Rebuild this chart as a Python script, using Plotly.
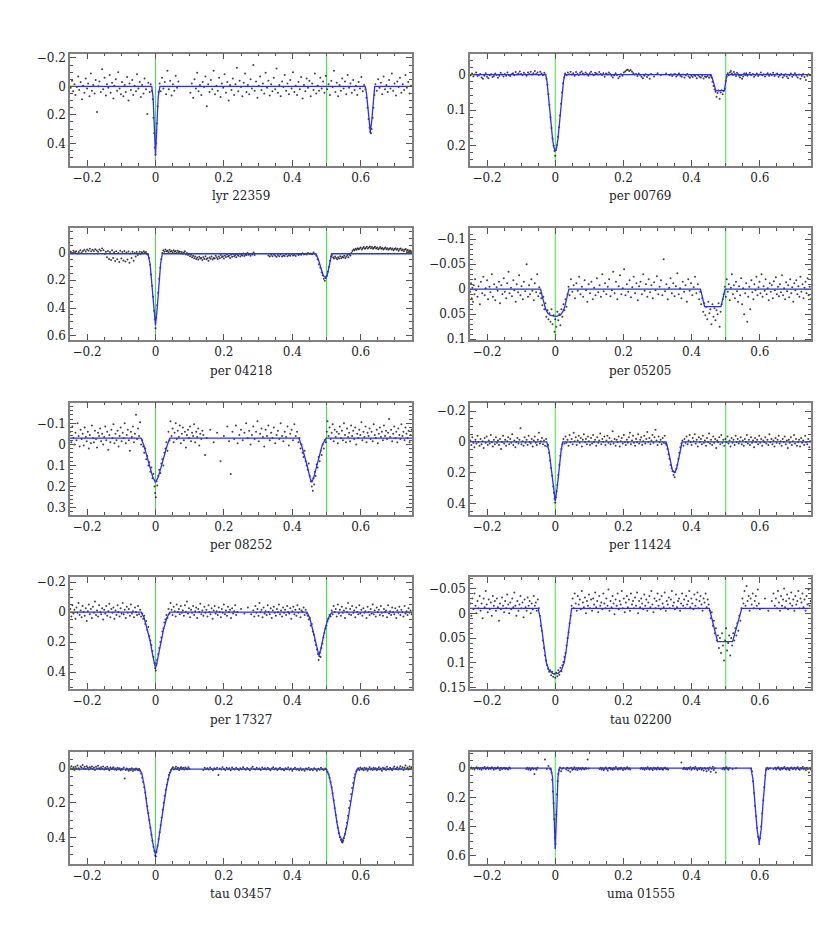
import plotly.graph_objects as go

# ---------------- data (phase and magnitude in thousandths) ----------------
panel_names = ["lyr 22359", "per 00769", "per 04218", "per 05205", "per 08252",
               "per 11424", "per 17327", "tau 02200", "tau 03457", "uma 01555"]

# y-axis ranges (bottom, top) -- magnitude axis is reversed
y_ranges = [(0.557, -0.23), (0.256, -0.059), (0.631, -0.174), (0.102, -0.122),
            (0.333, -0.198), (0.473, -0.256), (0.514, -0.233), (0.153, -0.073),
            (0.552, -0.096), (0.655, -0.114)]
y_major = [0.2, 0.1, 0.2, 0.05, 0.1, 0.2, 0.2, 0.05, 0.2, 0.2]
y_minor = [0.05, 0.02, 0.05, 0.01, 0.02, 0.05, 0.05, 0.01, 0.05, 0.05]
x_range = (-0.25, 0.75)
ref_phase = 0.5

# model curves (vertices)
lyr22359_model = [(-250,0),(-11,0),(-7,80),(-4,230),(-2,380),(0,485),(2,380),(5,200),(8,70),(13,0),
                  (613,0),(617,50),(621,150),(624,240),(628,320),(632,250),(635,150),(638,50),(641,0),(750,0)]
per00769_model = [(-250,0),(-28,0),(-24,20),(-20,55),(-16,95),(-12,140),(-8,180),(-4,205),(0,215),(4,205),
                  (8,180),(12,140),(16,95),(20,55),(24,20),(28,0),(457,0),(462,15),(467,35),(471,45),
                  (496,45),(499,30),(503,0),(750,0)]
per04218_model = [(-250,10),(-22,10),(-16,80),(-10,230),(-5,400),(0,525),(5,400),(10,230),(15,80),(20,10),
                  (469,10),(476,50),(484,120),(490,165),(496,180),(502,165),(507,110),(511,45),(515,10),(750,10)]
per05205_model = [(-250,0),(-43,0),(-38,15),(-33,30),(-28,40),(-22,48),(-15,52),(-5,54),(5,54),(15,52),
                  (22,45),(28,35),(33,20),(38,5),(40,0),(426,0),(432,20),(438,35),(486,35),(492,18),(498,0),(750,0)]
per08252_model = [(-250,-30),(-42,-30),(-33,10),(-24,60),(-16,110),(-8,155),(0,180),(8,155),(16,110),(24,60),
                  (33,10),(42,-30),(419,-30),(428,10),(437,60),(445,110),(452,160),(457,180),(463,155),
                  (470,110),(478,60),(488,0),(499,-30),(750,-30)]
per11424_model = [(-250,0),(-25,0),(-18,60),(-12,160),(-6,290),(0,385),(6,290),(12,160),(17,60),(22,0),
                  (325,0),(330,40),(337,120),(343,180),(349,200),(355,180),(361,120),(367,40),(372,0),(750,0)]
per17327_model = [(-250,0),(-42,0),(-33,40),(-24,110),(-16,190),(-8,290),(-3,350),(0,372),(3,350),(8,290),
                  (16,190),(24,110),(33,40),(42,0),(443,0),(451,40),(459,110),(467,190),(473,260),(478,290),
                  (483,250),(489,180),(496,110),(505,40),(516,0),(750,0)]
tau02200_model = [(-250,-10),(-50,-10),(-44,10),(-38,40),(-32,75),(-26,100),(-18,115),(-8,121),(0,122),(8,121),
                  (18,115),(26,100),(32,75),(38,40),(44,10),(48,-10),(452,-10),(464,25),(476,57),(520,57),
                  (532,25),(547,-10),(750,-10)]
tau03457_model = [(-250,5),(-47,5),(-40,30),(-32,110),(-24,230),(-16,340),(-8,430),(-3,480),(0,500),(3,480),
                  (8,430),(16,320),(24,210),(32,110),(40,40),(47,5),(499,5),(507,40),(515,110),(523,220),
                  (531,320),(538,390),(546,420),(553,390),(561,320),(569,220),(577,110),(584,40),(590,5),(750,5)]
uma01555_model = [(-250,0),(-13,0),(-8,60),(-4,250),(-2,420),(0,555),(2,420),(4,250),(8,60),(12,0),
                  (574,0),(580,80),(586,260),(592,420),(598,512),(604,420),(609,250),(614,80),(618,0),(750,0)]

# observed points
lyr22359_pts = [(-248,10),(-244,-40),(-241,35),(-237,-15),(-234,60),(-230,5),(-226,-70),(-223,25),(-219,-30),(-215,90),(-212,-5),(-208,45),(-204,-55),(-200,15),(-197,-20),(-193,70),(-189,-90),(-186,30),(-182,-10),(-178,50),(-175,-45),(-171,180),(-167,0),(-164,-35),(-160,40),(-156,-120),(-153,20),(-149,-60),(-145,65),(-142,-15),(-138,10),(-134,-80),(-131,45),(-127,-25),(-123,85),(-120,-5),(-116,-50),(-112,30),(-109,-100),(-105,15),(-101,55),(-98,-30),(-94,70),(-90,-10),(-87,40),(-83,-65),(-79,100),(-76,-20),(-72,25),(-68,-45),(-65,60),(-61,-5),(-57,35),(-54,-85),(-50,15),(-46,-30),(-43,75),(-39,-10),(-35,50),(-32,-55),(-28,20),(-24,195),(-21,-25),(-17,40),(-14,-15),(-11,30),(-8,90),(-6,220),(-4,330),(-2,430),(0,480),(2,400),(4,260),(6,140),(9,40),(12,-20),(15,35),(19,-60),(23,15),(27,-30),(31,55),(35,-110),(39,20),(43,-40),(47,65),(51,-15),(55,30),(59,-75),(63,10),(67,-35),
                (102,45),(106,-20),(110,80),(114,-50),(118,15),(122,-95),(126,35),(130,-10),(134,60),(138,-30),(142,5),(146,-70),(150,140),(154,-15),(158,40),(162,-45),(166,20),(170,-110),(174,55),(178,-5),(182,30),(186,-60),(190,75),(194,-20),(198,10),(202,-85),(206,45),(210,-30),(214,100),(218,-10),(222,25),(226,-55),(230,60),(234,-15),(238,-130),(242,35),(246,-40),(250,5),(254,70),(258,-25),(262,-90),(266,40),(270,-10),(274,55),(278,-50),(282,15),(286,-150),(290,30),(294,-35),(298,80),(302,-5),(306,-70),(310,25),(314,-20),(318,50),(322,-95),(326,10),(330,-40),(334,65),(338,-15),(342,35),(346,-60),(350,20),(354,-125),(358,45),(362,-10),(366,70),(370,-35),(374,5),(378,-80),(382,30),(386,-20),(390,55),(394,-45),(398,15),(402,-100),(406,40),(410,-5),(414,60),(418,-30),(422,20),(426,-65),(430,85),(434,-10),(438,35),(442,-55),(446,10),(450,-40),(454,70),(458,-20),(462,25),(466,-90),(470,50),(474,-5),(478,30),(482,-60),(486,15),(490,-35),(494,45),(498,-75),(502,20),(506,-15),(510,60),(514,-40),(518,5),(522,-110),(526,40),(530,-25),(534,70),(538,-10),(542,30),(546,-55),(550,15),(554,-35),(558,55),(562,-80),(566,10),(570,-20),(574,45),(578,-45),(582,25),(586,-5),(590,60),(594,-30),(598,15),(602,-65),(606,35),(610,-10),(614,20),(617,80),(620,150),(623,230),(626,290),(628,320),(630,330),(632,300),(635,220),(637,150),(640,60),(643,-15),(647,30),(651,-50),(655,10),(659,-25),(663,55),(667,-70),(671,20),(675,-10),(679,40),(683,-45),(687,15),(691,-90),(695,30),(699,-20),(703,65),(707,-35),(711,5),(715,-60),(719,45),(723,-15),(727,25),(731,-80),(735,10),(739,-30),(743,50),(747,-5)]

per00769_pts = [(-248,2),(-244,-3),(-240,5),(-236,0),(-232,-6),(-228,4),(-224,1),(-220,-2),(-216,8),(-212,12),(-208,3),(-204,-4),(-200,6),(-196,10),(-192,2),(-188,-1),(-184,7),(-180,4),(-176,-3),(-172,1),(-168,9),(-164,3),(-160,-5),(-156,0),(-152,5),(-148,-2),(-144,3),(-140,-6),(-136,1),(-132,4),(-128,-1),(-124,-4),(-120,2),(-116,-7),(-112,0),(-108,-3),(-104,-9),(-100,-2),(-96,1),(-92,-5),(-88,-1),(-84,3),(-80,-6),(-76,-2),(-72,-8),(-68,0),(-64,-4),(-60,-10),(-56,-2),(-52,-6),(-48,1),(-44,-8),(-40,-3),(-36,2),(-32,-5),(-29,0),(-26,12),(-23,28),(-20,55),(-17,85),(-14,120),(-11,150),(-8,180),(-5,200),(-2,215),(0,228),(2,212),(5,198),(8,175),(11,148),(14,115),(17,82),(20,50),(23,25),(26,8),(29,-3),(33,2),(37,-6),(41,-1),(45,-8),(49,0),(53,-4),(57,3),(61,-7),(65,-2),(69,1),(73,-5),(77,-9),(81,-3),(85,0),(89,-6),(93,-2),(97,3),(101,-4),(105,-8),(109,-1),(113,2),(117,-5),(121,-3),(125,0),(129,-7),(133,-2),(137,1),(141,-4),(145,6),(149,-3),(153,0),(157,-6),(161,-2),(165,3),(169,8),(173,2),(177,-4),(181,1),(185,10),(189,5),(193,-1),(197,3),(201,-6),(205,-9),(209,-12),(213,-14),(217,-10),(221,-13),(225,-8),(229,-4),(233,0),(237,-2),(241,4),(245,-3),(249,1),(253,6),(257,10),(261,3),(265,-1),(269,7),(273,2),(277,12),(281,-2),(290,5),(300,-4),(310,1),(325,-3),(335,2),(339,-1),(343,4),(347,0),(351,-2),(355,5),(359,1),(363,-3),(367,3),(371,6),(375,0),(379,8),(383,2),(387,-2),(391,5),(395,9),(399,3),(403,7),(407,1),(411,4),(415,10),(419,2),(423,6),(427,8),(431,3),(435,11),(439,5),(443,7),(447,4),(451,9),(455,3),(458,8),(461,20),(464,32),(467,42),(470,48),(473,62),(476,52),(479,45),(482,68),(485,50),(488,44),(491,55),(494,46),(497,40),(500,18),(503,6),(506,-4),(509,2),(512,-6),(515,-10),(518,-3),(521,1),(524,-7),(527,-2),(530,4),(533,-5),(536,-1),(539,3),(542,8),(545,2),(548,12),(551,5),(554,-3),(557,1),(560,-4),(563,3),(567,0),(571,-5),(575,2),(579,-2),(583,6),(587,1),(591,-3),(595,4),(599,0),(603,-6),(607,2),(611,-1),(615,5),(619,0),(623,-4),(627,3),(631,-2),(635,1),(639,-5),(643,4),(647,0),(651,-3),(655,6),(659,2),(663,-2),(667,8),(671,3),(675,-1),(679,5),(683,10),(687,2),(691,-3),(695,6),(699,1),(703,-4),(707,3),(711,8),(715,0),(719,12),(723,4),(727,-2),(731,7),(735,15),(739,3),(743,-1),(747,2)]

per04218_pts = [(-248,-5),(-244,5),(-240,-12),(-236,0),(-232,-8),(-228,8),(-224,-3),(-220,-15),(-216,2),(-212,-10),(-208,-18),(-204,-6),(-200,-20),(-196,-12),(-192,-25),(-188,-8),(-184,-18),(-180,-10),(-176,-22),(-172,-14),(-168,-5),(-164,-20),(-160,-12),(-156,-28),(-152,-15),(-148,10),(-145,-5),(-142,35),(-139,-10),(-136,48),(-133,-2),(-130,55),(-127,-15),(-124,40),(-121,0),(-118,62),(-115,-8),(-112,50),(-109,5),(-106,70),(-103,-12),(-100,45),(-97,-3),(-94,58),(-91,-10),(-88,65),(-85,2),(-82,52),(-79,-6),(-76,75),(-73,8),(-70,40),(-67,-4),(-64,60),(-61,5),(-58,30),(-55,-2),(-52,20),(-49,8),(-46,-5),(-43,12),(-40,0),(-37,6),(-34,-8),(-31,4),(-28,-3),(-25,10),(-22,18),(-19,40),(-16,90),(-13,160),(-10,240),(-7,320),(-4,420),(-2,480),(0,545),(2,470),(5,380),(8,290),(11,190),(14,110),(17,50),(20,5),(23,-15),(26,-5),(29,-20),(32,-8),(35,-12),(38,0),(41,-18),(44,-6),(47,-10),(50,2),(53,-15),(56,-4),(59,-9),(62,5),(65,-12),(68,0),(71,-6),(74,8),(77,-3),(80,10),(83,2),(86,-8),(89,15),(92,5),(95,20),(98,12),(101,28),(104,18),(107,35),(110,25),(113,42),(116,30),(119,48),(122,38),(125,52),(128,32),(131,45),(134,40),(137,55),(140,35),(143,48),(146,28),(149,50),(152,42),(155,60),(158,38),(161,46),(164,30),(167,52),(170,40),(173,44),(176,25),(179,38),(182,48),(185,30),(188,42),(191,20),(194,36),(197,28),(200,45),(203,22),(206,34),(209,15),(212,30),(215,25),(218,40),(221,18),(224,32),(227,12),(230,28),(233,20),(236,35),(239,15),(242,25),(245,10),(248,30),(251,18),(254,22),(257,8),(260,26),(263,15),(266,20),(269,5),(272,18),(275,12),(278,24),(281,10),(284,16),(287,2),(290,20),(330,22),(334,30),(338,18),(342,28),(346,15),(350,25),(354,32),(358,20),(362,28),(366,16),(370,30),(374,22),(378,26),(382,14),(386,28),(390,20),(394,24),(398,12),(402,22),(406,18),(410,26),(414,10),(418,20),(422,14),(426,18),(430,6),(434,16),(438,10),(442,15),(446,4),(450,12),(454,8),(458,14),(462,2),(466,10),(470,25),(474,50),(478,85),(482,110),(486,145),(489,165),(492,190),(495,205),(498,185),(501,170),(504,140),(507,105),(510,60),(513,30),(516,20),(519,35),(522,45),(525,30),(528,40),(531,50),(534,35),(537,45),(540,28),(543,42),(546,32),(549,38),(552,25),(555,40),(558,30),(561,20),(564,35),(567,15),(570,22),(573,5),(576,-10),(579,-20),(582,-15),(585,-25),(588,-18),(591,-30),(594,-22),(597,-28),(600,-35),(603,-20),(606,-30),(609,-38),(612,-25),(615,-32),(618,-40),(621,-28),(624,-35),(627,-42),(630,-30),(633,-38),(636,-25),(639,-33),(642,-40),(645,-28),(648,-35),(651,-22),(654,-30),(657,-38),(660,-25),(663,-32),(666,-20),(669,-28),(672,-35),(675,-22),(678,-30),(681,-18),(684,-26),(687,-32),(690,-20),(693,-28),(696,-15),(699,-24),(702,-30),(705,-18),(708,-25),(711,-12),(714,-22),(717,-28),(720,-15),(723,-20),(726,-8),(729,-18),(732,-24),(735,-10),(738,-16),(741,-5),(744,-14),(747,-8)]

per05205_pts = [(-249,5),(-247,-12),(-245,18),(-243,-3),(-241,25),(-239,-8),(-237,10),(-235,-20),(-232,2),(-228,15),(-225,-6),(-221,30),(-218,-15),(-214,8),(-211,-25),(-207,12),(-204,-2),(-200,-18),(-197,20),(-193,-5),(-190,6),(-186,-30),(-183,15),(-179,-10),(-176,22),(-172,-4),(-169,3),(-165,-15),(-162,28),(-158,-8),(-155,10),(-151,-22),(-148,5),(-144,18),(-141,-12),(-137,-35),(-134,8),(-130,-3),(-127,14),(-123,-18),(-120,2),(-116,25),(-113,-10),(-109,6),(-106,-28),(-102,12),(-99,-6),(-95,20),(-92,-15),(-88,4),(-84,-50),(-80,15),(-77,-8),(-74,10),(-70,-20),(-67,3),(-63,22),(-60,-12),(-56,6),(-53,-30),(-50,14),(-47,-4),(-44,8),(-41,18),(-38,32),(-35,15),(-32,40),(-29,28),(-26,55),(-23,42),(-20,60),(-17,48),(-14,65),(-11,40),(-8,70),(-5,52),(-2,85),(0,60),(3,75),(6,45),(9,62),(12,50),(15,72),(18,40),(21,55),(24,30),(27,42),(30,20),(33,35),(36,10),(39,-5),(42,12),(46,-20),(50,5),(54,-8),(58,18),(62,-12),(66,3),(70,-25),(74,10),(78,-5),(82,15),(86,-18),(90,2),(94,25),(98,-10),(102,8),(106,-15),(110,20),(114,-3),(118,12),(122,-22),(126,6),(130,-8),(134,15),(138,-30),(142,4),(146,-12),(150,10),(154,-5),(158,-20),(162,14),(166,2),(170,-35),(174,8),(178,-15),(182,20),(186,-6),(190,-28),(194,10),(198,-2),(202,-40),(206,12),(210,-10),(214,5),(218,-18),(222,16),(226,-4),(230,-25),(234,8),(238,-12),(242,22),(246,-6),(250,-15),(254,10),(258,-30),(262,3),(266,-10),(270,15),(274,-20),(278,6),(282,-8),(286,18),(290,-14),(294,2),(298,-26),(302,10),(306,-5),(310,-18),(314,12),(318,-60),(322,4),(326,-10),(330,20),(334,-3),(338,-22),(342,8),(346,-12),(350,14),(354,-6),(358,-32),(362,10),(366,-2),(370,18),(374,-15),(378,5),(382,-8),(386,25),(390,-20),(394,3),(398,-12),(402,12),(406,-4),(410,-25),(414,8),(418,-10),(422,20),(425,5),(428,30),(431,18),(434,45),(437,28),(440,52),(443,35),(446,60),(449,25),(452,48),(455,40),(458,70),(461,30),(464,55),(467,38),(470,62),(473,42),(476,50),(479,28),(482,75),(485,45),(488,30),(491,20),(494,10),(497,-5),(500,15),(503,-20),(506,5),(509,-10),(512,22),(515,-3),(518,-30),(521,10),(524,-8),(527,18),(530,-15),(533,4),(536,25),(539,-6),(542,12),(545,-22),(548,30),(551,-2),(554,50),(557,8),(560,-12),(563,65),(566,15),(569,-5),(572,40),(575,-18),(578,6),(581,20),(584,-10),(587,2),(590,-25),(593,12),(596,-4),(599,-15),(602,8),(605,-30),(608,15),(611,-6),(614,3),(617,-20),(620,10),(623,-2),(626,22),(629,-12),(632,5),(635,-8),(638,18),(641,-16),(644,2),(647,-24),(650,10),(653,-5),(656,14),(659,-10),(662,6),(665,-28),(668,12),(671,-2),(674,20),(677,-14),(680,4),(683,-8),(686,16),(689,-20),(692,8),(695,-4),(698,25),(701,-12),(704,2),(707,-18),(710,10),(713,-6),(716,15),(719,-25),(722,5),(725,-10),(728,18),(731,-3),(734,-15),(737,8),(740,-22),(743,12),(746,-5),(749,20)]

per08252_pts = [(-249,-60),(-246,-10),(-243,-85),(-240,-30),(-237,0),(-234,-55),(-231,-20),(-228,-100),(-225,-40),(-222,10),(-219,-70),(-216,-25),(-213,-50),(-210,5),(-207,-80),(-204,-35),(-201,-15),(-198,-60),(-195,20),(-192,-45),(-189,-5),(-186,-90),(-183,-30),(-180,-10),(-177,-65),(-174,-25),(-171,15),(-168,-55),(-165,-40),(-162,-75),(-159,-15),(-156,-50),(-153,0),(-150,-35),(-147,-85),(-144,-20),(-141,-60),(-138,25),(-135,-45),(-132,-10),(-129,-70),(-126,-30),(-123,-95),(-120,-5),(-117,-50),(-114,-20),(-111,-65),(-108,10),(-105,-40),(-102,-80),(-99,-15),(-96,-55),(-93,-30),(-90,-100),(-87,-5),(-84,-45),(-81,-70),(-78,-20),(-75,30),(-72,-60),(-69,-35),(-66,-85),(-63,-10),(-60,-50),(-57,-140),(-54,-25),(-51,-75),(-48,-40),(-45,-105),(-42,0),(-39,-20),(-36,10),(-33,40),(-30,20),(-27,70),(-24,55),(-21,100),(-18,85),(-15,130),(-12,110),(-9,160),(-6,140),(-3,200),(-1,230),(1,250),(3,175),(5,195),(8,150),(11,120),(14,135),(17,90),(20,70),(23,100),(26,40),(29,20),(32,-10),(35,30),(38,-60),(41,-20),(44,-110),(47,-40),(50,-75),(53,-10),(56,-55),(59,-100),(62,-25),(65,-65),(68,-35),(71,-90),(74,-5),(77,-50),(80,-80),(83,-20),(86,-60),(89,15),(92,-45),(95,-70),(98,-30),(101,-85),(104,-15),(107,-55),(110,-40),(113,-95),(116,-10),(119,-60),(122,-35),(125,-75),(128,5),(131,-50),(134,-25),(137,-65),(140,-45),(145,50),(150,-30),(160,-70),(170,-10),(180,-55),(190,80),(200,-40),(210,-85),(215,-15),(220,140),(225,-60),(230,-25),(235,-90),(240,-5),(245,-45),(250,-70),(255,-20),(260,-55),(265,-100),(270,-30),(274,-65),(278,0),(282,-45),(286,-85),(290,-25),(294,-60),(298,-110),(302,-15),(306,-50),(310,-75),(314,-35),(318,10),(322,-70),(326,-40),(330,-90),(334,-20),(338,-55),(342,-30),(346,-80),(350,-5),(354,-45),(358,-65),(362,-25),(366,-100),(370,-40),(374,-15),(378,-60),(382,-35),(386,-85),(390,5),(394,-50),(398,-70),(402,-20),(406,-95),(410,-40),(414,-60),(418,-10),(421,-30),(424,20),(427,0),(430,40),(433,60),(436,30),(439,80),(442,100),(445,120),(448,90),(451,150),(454,175),(457,200),(460,220),(462,160),(464,190),(466,130),(468,150),(471,95),(474,110),(477,60),(480,80),(483,30),(486,50),(489,0),(492,20),(495,-20),(498,-10),(501,-60),(503,-110),(506,-40),(509,-80),(512,-25),(515,-55),(518,-95),(521,-15),(524,-70),(527,-35),(530,-60),(533,-5),(536,-50),(539,-85),(542,-30),(545,-65),(548,-20),(551,-100),(554,-45),(557,-10),(560,-75),(563,-35),(566,-55),(569,-15),(572,-90),(575,-40),(578,-65),(581,-25),(584,-80),(587,0),(590,-50),(593,-30),(596,-70),(599,-45),(602,-105),(605,-20),(608,-60),(611,-35),(614,-85),(617,-10),(620,-55),(623,-40),(626,-75),(629,-25),(632,-60),(635,-15),(638,-95),(641,-45),(644,-30),(647,-70),(650,-5),(653,-50),(656,-80),(659,-35),(662,-60),(665,-20),(668,-90),(671,-40),(674,-65),(677,-25),(680,-55),(683,-120),(686,-35),(689,-70),(692,-15),(695,-50),(698,-85),(701,-30),(704,-60),(707,-10),(710,-75),(713,-45),(716,-25),(719,-95),(722,-40),(725,-60),(728,-20),(731,-80),(734,-50),(737,-30),(740,-65),(743,-10),(746,-45),(749,-70)]

per11424_pts = [(-249,-10),(-246,20),(-243,-30),(-240,5),(-237,35),(-234,-15),(-231,10),(-228,-40),(-225,0),(-222,25),(-219,-20),(-216,15),(-213,-5),(-210,40),(-207,-25),(-204,5),(-201,-35),(-198,20),(-195,-10),(-192,10),(-189,-45),(-186,0),(-183,30),(-180,-15),(-177,15),(-174,-30),(-171,5),(-168,-10),(-165,20),(-162,-20),(-159,45),(-156,0),(-153,-40),(-150,10),(-147,-15),(-144,25),(-141,-5),(-138,-30),(-135,15),(-132,-20),(-129,5),(-126,-50),(-123,20),(-120,-10),(-117,35),(-114,0),(-111,-25),(-108,10),(-105,-15),(-102,-90),(-99,15),(-96,-5),(-93,25),(-90,-30),(-87,5),(-84,-15),(-81,20),(-78,-40),(-75,0),(-72,10),(-69,-20),(-66,30),(-63,-10),(-60,-35),(-57,5),(-54,20),(-51,-15),(-48,-60),(-45,10),(-42,-5),(-39,-25),(-36,15),(-33,-10),(-30,25),(-27,-20),(-24,30),(-21,20),(-18,70),(-15,120),(-12,170),(-9,220),(-6,290),(-4,330),(-2,370),(0,395),(2,360),(4,320),(6,280),(9,215),(12,150),(15,90),(18,45),(21,15),(24,-20),(27,10),(30,-35),(33,5),(36,-15),(39,25),(42,-45),(45,0),(48,-20),(51,15),(54,-60),(57,-5),(60,-30),(63,20),(66,-10),(69,-40),(72,5),(75,-25),(78,30),(81,-15),(84,-50),(87,0),(90,-20),(93,15),(96,-35),(99,-5),(102,20),(105,-25),(108,10),(111,-45),(114,0),(117,-15),(120,25),(123,-30),(126,5),(129,-10),(132,-55),(135,15),(138,-20),(141,0),(144,-35),(147,20),(150,-10),(153,-40),(156,5),(159,-25),(162,15),(165,-5),(168,-70),(171,10),(174,-20),(177,25),(180,-15),(183,0),(186,-35),(189,30),(192,-5),(195,-25),(198,10),(201,-45),(204,0),(207,20),(210,-15),(213,5),(216,-30),(219,-60),(222,15),(225,-10),(228,-40),(231,5),(234,25),(237,-20),(240,0),(243,-50),(246,10),(249,-15),(252,-30),(255,20),(258,-5),(261,-40),(264,10),(267,-20),(270,-65),(273,0),(276,-25),(279,15),(282,-10),(285,-45),(288,5),(291,-30),(294,-80),(297,-10),(300,20),(303,-35),(306,0),(309,-15),(312,15),(315,-25),(318,5),(321,-40),(323,10),(326,20),(329,45),(332,80),(335,110),(338,150),(341,170),(344,190),(347,215),(350,230),(352,195),(355,175),(358,150),(361,110),(364,70),(367,35),(370,10),(373,-10),(376,25),(379,-20),(382,5),(385,-35),(388,15),(391,-10),(394,-45),(397,0),(400,20),(403,-25),(406,-5),(409,-50),(412,10),(415,-15),(418,30),(421,-30),(424,0),(427,-20),(430,15),(433,-40),(436,5),(439,-10),(442,25),(445,-25),(448,0),(451,-55),(454,10),(457,-15),(460,20),(463,-35),(466,5),(469,-20),(472,40),(475,-10),(478,0),(481,-30),(484,15),(487,-45),(490,5),(493,-15),(496,25),(499,-20),(502,0),(505,-35),(508,10),(511,-10),(514,30),(517,-25),(520,5),(523,-15),(526,20),(529,-40),(532,0),(535,-20),(538,10),(541,-5),(544,-30),(547,15),(550,-10),(553,25),(556,-20),(559,0),(562,-45),(565,10),(568,-15),(571,20),(574,-30),(577,5),(580,-10),(583,35),(586,-25),(589,0),(592,-15),(595,15),(598,-40),(601,5),(604,-20),(607,25),(610,-10),(613,0),(616,-30),(619,10),(622,-15),(625,20),(628,-50),(631,0),(634,-20),(637,15),(640,-10),(643,30),(646,-25),(649,5),(652,-15),(655,-40),(658,10),(661,-5),(664,25),(667,-20),(670,0),(673,-35),(676,15),(679,-10),(682,40),(685,-15),(688,5),(691,-30),(694,20),(697,-5),(700,-45),(703,10),(706,-20),(709,25),(712,0),(715,-15),(718,30),(721,-25),(724,5),(727,-10),(730,20),(733,-40),(736,0),(739,15),(742,-20),(745,35),(748,-5)]

per17327_pts = [(-249,-20),(-246,30),(-243,-45),(-240,10),(-237,-15),(-234,45),(-231,-30),(-228,5),(-225,-60),(-222,20),(-219,-10),(-216,35),(-213,-40),(-210,0),(-207,25),(-204,-25),(-201,60),(-198,-5),(-195,-50),(-192,15),(-189,-20),(-186,40),(-183,-35),(-180,5),(-177,-70),(-174,20),(-171,-10),(-168,30),(-165,-45),(-162,0),(-159,15),(-156,-25),(-153,50),(-150,-15),(-147,10),(-144,-40),(-141,25),(-138,-5),(-135,-55),(-132,35),(-129,-20),(-126,5),(-123,-30),(-120,45),(-117,-10),(-114,20),(-111,-45),(-108,0),(-105,30),(-102,-25),(-99,10),(-96,-60),(-93,15),(-90,-15),(-87,40),(-84,-35),(-81,5),(-78,-20),(-75,25),(-72,-50),(-69,10),(-66,-5),(-63,35),(-60,-30),(-57,0),(-54,20),(-51,-40),(-48,15),(-45,-15),(-42,30),(-39,10),(-36,45),(-33,25),(-30,80),(-27,60),(-24,120),(-21,100),(-18,160),(-15,190),(-12,220),(-9,260),(-6,300),(-3,340),(-1,375),(1,390),(3,345),(5,320),(8,280),(11,240),(14,200),(17,170),(20,130),(23,110),(26,70),(29,50),(32,20),(35,40),(38,-20),(41,10),(44,-60),(47,-15),(50,20),(53,-35),(56,-5),(59,30),(62,-50),(65,0),(68,-20),(71,15),(74,-40),(77,5),(80,-10),(83,25),(86,-45),(89,0),(92,-70),(95,10),(98,-25),(101,35),(104,-15),(107,5),(110,-40),(113,20),(116,-5),(119,-30),(122,40),(125,-20),(128,0),(131,-55),(134,15),(137,-10),(140,25),(143,-35),(146,5),(149,-15),(152,30),(155,-45),(158,0),(161,15),(164,-25),(167,45),(170,-10),(173,-40),(176,10),(179,-5),(182,20),(185,-30),(188,0),(191,35),(194,-20),(197,5),(200,-50),(203,15),(206,-10),(209,25),(212,-35),(215,0),(218,-15),(221,40),(224,-25),(227,10),(230,-5),(233,-45),(236,20),(239,0),(250,-20),(260,10),(270,-30),(280,15),(286,-10),(289,30),(292,-40),(295,5),(298,-20),(301,25),(304,-60),(307,0),(310,-15),(313,35),(316,-30),(319,10),(322,-5),(325,20),(328,-45),(331,0),(334,15),(337,-25),(340,40),(343,-10),(346,-35),(349,5),(352,25),(355,-20),(358,0),(361,-50),(364,15),(367,-10),(370,30),(373,-30),(376,5),(379,-15),(382,20),(385,-40),(388,0),(391,10),(394,-25),(397,45),(400,-5),(403,-35),(406,15),(409,-15),(412,25),(415,-45),(418,5),(421,-20),(424,35),(427,-10),(430,0),(433,-30),(436,20),(439,-15),(442,10),(445,25),(448,50),(451,40),(454,90),(457,80),(460,130),(463,150),(466,190),(469,220),(472,250),(475,280),(477,320),(479,295),(481,270),(483,300),(485,240),(488,210),(491,170),(494,140),(497,110),(500,90),(503,60),(506,45),(509,20),(512,30),(515,-10),(518,15),(521,-40),(524,0),(527,-20),(530,30),(533,-50),(536,10),(539,-15),(542,25),(545,-35),(548,5),(551,-10),(554,40),(557,-25),(560,0),(563,-60),(566,15),(569,-20),(572,20),(575,-40),(578,5),(581,-10),(584,35),(587,-30),(590,0),(593,15),(596,-45),(599,10),(602,-15),(605,25),(608,-25),(611,5),(614,-5),(617,40),(620,-35),(623,0),(626,20),(629,-20),(632,10),(635,-50),(638,15),(641,-10),(644,30),(647,-30),(650,0),(653,-15),(656,20),(659,-40),(662,5),(665,25),(668,-20),(671,0),(674,-10),(677,35),(680,-45),(683,10),(686,-5),(689,20),(692,-30),(695,0),(698,15),(701,-25),(704,40),(707,-10),(710,5),(713,-35),(716,20),(719,-15),(722,0),(725,30),(728,-40),(731,10),(734,-5),(737,20),(740,-25),(743,5),(746,-10),(749,15)]

tau02200_pts = [(-249,-20),(-246,5),(-243,-30),(-240,-8),(-237,-40),(-234,-15),(-231,0),(-228,-25),(-225,-10),(-222,-35),(-219,-5),(-216,-20),(-213,10),(-210,-30),(-207,-12),(-204,-45),(-201,-18),(-198,-2),(-195,-28),(-192,-8),(-189,-22),(-186,5),(-183,-35),(-180,-15),(-177,-25),(-174,-5),(-171,-30),(-168,-12),(-165,15),(-162,-20),(-159,-8),(-156,-32),(-153,-15),(-150,-2),(-147,-25),(-144,-10),(-141,-38),(-138,-18),(-135,0),(-132,-22),(-129,-8),(-126,-30),(-123,-12),(-120,-42),(-117,-15),(-114,5),(-111,-25),(-108,-5),(-105,-18),(-102,-35),(-99,-10),(-96,-22),(-93,8),(-90,-28),(-87,-12),(-84,-5),(-81,-32),(-78,-15),(-75,-25),(-72,0),(-69,-20),(-66,-8),(-63,-35),(-60,-15),(-57,-22),(-54,-5),(-51,-28),(-48,-10),(-45,5),(-42,25),(-39,35),(-36,55),(-33,70),(-30,85),(-27,95),(-24,105),(-21,112),(-18,118),(-15,115),(-12,125),(-9,118),(-6,128),(-3,122),(0,130),(3,120),(6,127),(9,115),(12,124),(15,110),(18,117),(21,105),(24,98),(27,88),(30,80),(33,65),(36,50),(39,38),(42,20),(45,5),(48,-15),(51,-30),(54,-10),(57,-40),(60,-20),(63,-5),(66,-35),(69,-18),(72,-28),(75,-8),(78,-45),(81,-22),(84,-12),(87,-32),(90,0),(93,-25),(96,-15),(99,-38),(102,-10),(105,-28),(108,-5),(111,-30),(114,-18),(117,-42),(120,-12),(123,-25),(126,-2),(129,-35),(132,-15),(135,-22),(138,-8),(141,-40),(144,-20),(147,-10),(150,-30),(153,-15),(156,-48),(159,-5),(162,-25),(165,-12),(168,-35),(171,-20),(174,2),(177,-28),(180,-15),(183,-40),(186,-8),(189,-25),(192,-18),(195,-45),(198,-10),(201,-30),(204,-2),(207,-22),(210,-35),(213,-12),(216,-28),(219,-5),(222,-40),(225,-18),(228,-25),(231,-10),(234,-32),(237,-15),(240,-42),(243,0),(246,-25),(249,-12),(252,-30),(255,-20),(258,-8),(261,-38),(264,-15),(267,-28),(270,-5),(273,-22),(276,-35),(279,-12),(282,-45),(285,-18),(288,-2),(291,-30),(294,-10),(297,-25),(300,-40),(303,-15),(306,-28),(309,-8),(312,-35),(315,-20),(318,-12),(321,-42),(324,-5),(327,-25),(330,-18),(333,-32),(336,-10),(339,-28),(342,-45),(345,-15),(348,-22),(351,-8),(354,-38),(357,-12),(360,-25),(363,-30),(366,-5),(369,-20),(372,-40),(375,-15),(378,-28),(381,-10),(384,-35),(387,-18),(390,-25),(393,-45),(396,-12),(399,-30),(402,-20),(405,-8),(408,-38),(411,-15),(414,-28),(417,-42),(420,-10),(423,-25),(426,-35),(429,-18),(432,-5),(435,-30),(438,-22),(441,-40),(444,-12),(447,-28),(450,-18),(453,-5),(456,10),(459,-2),(462,25),(465,15),(468,40),(471,30),(474,55),(477,45),(480,70),(483,50),(486,80),(489,40),(492,65),(495,95),(498,55),(501,30),(504,75),(507,60),(510,45),(513,85),(516,50),(519,65),(522,40),(525,55),(528,30),(531,45),(534,20),(537,35),(540,5),(543,15),(546,-10),(549,-30),(552,-20),(555,-45),(558,-15),(561,-55),(564,-25),(567,-35),(570,-5),(573,-30),(576,-18),(579,-40),(582,-10),(585,-25),(588,-35),(591,-15),(594,-48),(597,-20),(600,-8),(615,-30),(625,-5),(635,-25),(640,-40),(644,-15),(647,-30),(650,-10),(653,-45),(656,-22),(659,-5),(662,-35),(665,-15),(668,-28),(671,-50),(674,-12),(677,-25),(680,-38),(683,-8),(686,-30),(689,-20),(692,-42),(695,-15),(698,-28),(701,-5),(704,-35),(707,-18),(710,-25),(713,-45),(716,-10),(719,-30),(722,-22),(725,-40),(728,-12),(731,-28),(734,-5),(737,-35),(740,-18),(743,-48),(746,-15),(749,-25)]

tau03457_pts = [(-249,0),(-246,-12),(-243,5),(-240,-5),(-237,10),(-234,-8),(-231,2),(-228,-15),(-225,0),(-222,8),(-219,-10),(-216,-3),(-213,-18),(-210,2),(-207,-8),(-204,5),(-201,-12),(-198,-2),(-195,8),(-192,-6),(-189,0),(-186,-10),(-183,4),(-180,-4),(-177,10),(-174,-8),(-171,2),(-168,-14),(-165,0),(-162,6),(-159,-5),(-156,3),(-153,-10),(-150,8),(-147,-2),(-144,5),(-141,-8),(-138,2),(-135,12),(-132,-4),(-129,5),(-126,0),(-123,-6),(-120,8),(-117,2),(-114,10),(-111,-2),(-108,6),(-105,0),(-102,12),(-99,4),(-96,8),(-93,-4),(-90,60),(-87,10),(-84,2),(-81,8),(-78,14),(-75,4),(-72,10),(-69,0),(-66,16),(-63,6),(-60,10),(-57,2),(-54,8),(-51,12),(-48,5),(-45,15),(-42,30),(-39,55),(-36,80),(-33,110),(-30,140),(-27,175),(-24,220),(-21,260),(-18,300),(-15,345),(-12,385),(-9,420),(-6,455),(-3,480),(-1,505),(1,510),(3,485),(6,450),(9,410),(12,370),(15,330),(18,285),(21,240),(24,200),(27,160),(30,125),(33,95),(36,65),(39,40),(42,25),(45,12),(48,2),(51,-5),(54,8),(57,0),(60,-8),(63,5),(66,-3),(69,10),(72,0),(75,-6),(78,4),(81,-2),(84,8),(87,-4),(90,2),(93,6),(96,-5),(99,3),(140,10),(144,-2),(148,6),(152,0),(156,8),(160,-4),(164,4),(168,12),(172,0),(176,6),(180,-3),(184,40),(188,2),(192,8),(196,-5),(200,4),(204,10),(208,-2),(212,6),(216,0),(220,12),(224,-4),(228,5),(232,8),(236,-2),(240,4),(244,10),(248,0),(252,6),(256,-6),(260,3),(264,9),(268,-1),(272,5),(276,12),(280,0),(284,-8),(288,4),(292,8),(296,-2),(300,6),(304,2),(308,10),(312,-4),(316,5),(320,0),(324,8),(328,-3),(332,4),(336,12),(340,2),(344,-5),(348,6),(352,0),(356,10),(360,3),(364,-2),(368,8),(372,4),(376,12),(380,0),(384,6),(388,-4),(392,9),(396,2),(400,14),(404,5),(408,-2),(412,8),(416,3),(420,12),(424,0),(428,10),(432,6),(436,15),(440,2),(444,8),(448,-2),(452,10),(456,4),(460,12),(464,0),(468,6),(472,14),(476,3),(480,9),(484,-3),(488,6),(492,11),(496,2),(500,8),(503,20),(506,35),(509,55),(512,80),(515,110),(518,145),(521,185),(524,230),(527,270),(530,310),(533,345),(536,375),(539,400),(542,415),(545,425),(547,430),(549,420),(551,405),(554,380),(557,350),(560,315),(563,275),(566,230),(569,190),(572,150),(575,115),(578,85),(581,55),(584,35),(587,18),(590,8),(593,0),(596,10),(599,-4),(602,6),(605,2),(608,12),(611,-2),(614,8),(617,0),(620,14),(623,4),(626,-6),(629,8),(632,2),(635,10),(638,-3),(641,6),(644,0),(647,12),(650,4),(653,-5),(656,8),(659,2),(662,15),(665,-2),(668,6),(671,0),(674,10),(677,-8),(680,4),(683,8),(686,-3),(689,5),(692,12),(695,0),(698,-10),(701,6),(704,2),(707,-5),(710,8),(713,0),(716,-12),(719,4),(722,-6),(725,10),(728,-2),(731,-15),(734,5),(737,-4),(740,8),(743,-10),(746,2),(749,-6)]

uma01555_pts = [(-249,2),(-246,-5),(-243,4),(-240,-2),(-237,8),(-234,0),(-231,-6),(-228,3),(-225,-3),(-222,6),(-219,-1),(-216,10),(-213,-4),(-210,2),(-207,-8),(-204,5),(-201,0),(-198,-5),(-195,6),(-192,-2),(-189,3),(-186,-7),(-183,1),(-180,8),(-177,-3),(-174,4),(-171,0),(-168,-6),(-165,2),(-162,12),(-159,-4),(-156,5),(-153,0),(-150,-3),(-147,6),(-144,-1),(-141,3),(-138,8),(-135,-5),(-132,2),(-85,5),(-82,-3),(-79,8),(-76,0),(-73,12),(-70,3),(-67,-2),(-64,6),(-61,40),(-58,2),(-55,10),(-52,-4),(-30,-60),(-25,5),(-20,-15),(-16,2),(-13,8),(-11,30),(-9,80),(-7,160),(-5,240),(-3,350),(-1,480),(1,520),(3,320),(5,180),(7,90),(9,40),(11,12),(14,-5),(17,20),(20,3),(24,-2),(32,8),(35,-4),(38,15),(41,2),(44,25),(47,-3),(50,10),(53,5),(56,-6),(59,8),(62,1),(65,12),(68,-2),(71,6),(74,0),(77,9),(80,-4),(83,3),(86,7),(89,-1),(92,4),(95,-60),(98,2),(130,5),(133,-3),(136,8),(139,0),(142,12),(145,4),(148,-5),(151,6),(154,15),(157,1),(160,-4),(163,7),(166,2),(169,10),(172,-2),(175,5),(178,-8),(181,3),(184,9),(187,0),(190,6),(193,-3),(196,4),(199,12),(202,-1),(205,7),(208,2),(211,-6),(214,5),(217,0),(220,8),(250,3),(253,-4),(256,6),(259,0),(262,10),(265,-2),(268,5),(271,-6),(274,3),(277,8),(280,-1),(283,4),(286,12),(289,-3),(292,6),(295,0),(298,9),(301,-5),(304,3),(307,7),(310,-2),(313,5),(316,10),(319,0),(322,-4),(325,6),(328,2),(331,8),(370,-40),(375,5),(378,-3),(381,6),(384,0),(387,8),(390,-2),(393,4),(396,-6),(399,10),(402,2),(405,-3),(408,6),(411,-8),(414,3),(417,12),(420,0),(423,5),(426,-4),(429,8),(432,2),(435,15),(438,-2),(441,6),(444,20),(447,0),(450,10),(453,-5),(456,25),(459,4),(462,-10),(465,12),(468,0),(471,30),(490,5),(493,-3),(496,8),(499,0),(502,-6),(505,4),(508,10),(511,-2),(520,6),(530,0),(574,2),(577,20),(580,90),(583,170),(586,260),(589,330),(592,410),(595,470),(598,520),(601,480),(604,400),(607,310),(610,220),(613,130),(616,50),(619,10),(622,-3),(625,6),(630,0),(640,5),(645,-4),(648,8),(651,0),(654,-6),(657,4),(660,10),(663,-2),(666,6),(669,0),(672,-8),(675,3),(678,8),(681,-4),(684,5),(687,12),(690,0),(693,-5),(696,6),(699,2),(702,-3),(705,8),(708,0),(711,-6),(714,5),(717,10),(720,-2),(723,4),(726,-8),(729,6),(732,0),(735,12),(738,-4),(741,5),(744,30),(747,-2),(749,8)]

panel_points = [lyr22359_pts, per00769_pts, per04218_pts, per05205_pts, per08252_pts,
                per11424_pts, per17327_pts, tau02200_pts, tau03457_pts, uma01555_pts]
panel_models = [lyr22359_model, per00769_model, per04218_model, per05205_model, per08252_model,
                per11424_model, per17327_model, tau02200_model, tau03457_model, uma01555_model]

# ---------------- layout geometry (pixels) ----------------
W, H = 830, 937
COLS = [(62, 404), (462, 803)]
ROW_TOP, ROW_H, ROW_STEP = 44, 113, 176

FONT = dict(family="DejaVu Serif", size=12, color="#222222")
FRAME = "#808080"
TICKC = "#555555"

fig = go.Figure()
layout = {}
annotations = []
shapes = []

for i, name in enumerate(panel_names):
    r, c = divmod(i, 2)
    n = i + 1
    xa = "x" if n == 1 else f"x{n}"
    ya = "y" if n == 1 else f"y{n}"
    xk = "xaxis" if n == 1 else f"xaxis{n}"
    yk = "yaxis" if n == 1 else f"yaxis{n}"
    x0, x1 = COLS[c]
    top = ROW_TOP + r * ROW_STEP
    bot = top + ROW_H

    pts = panel_points[i]
    fig.add_trace(go.Scatter(
        x=[p[0] / 1000 for p in pts], y=[p[1] / 1000 for p in pts],
        mode="markers", xaxis=xa, yaxis=ya, showlegend=False, hoverinfo="skip",
        marker=dict(size=2, color="rgba(0,0,0,0.75)", line=dict(width=0))))
    mdl = panel_models[i]
    fig.add_trace(go.Scatter(
        x=[p[0] / 1000 for p in mdl], y=[p[1] / 1000 for p in mdl],
        mode="lines", xaxis=xa, yaxis=ya, showlegend=False, hoverinfo="skip",
        line=dict(color="rgb(45,45,255)", width=1.3)))

    common = dict(showline=True, linecolor=FRAME, linewidth=1.5, mirror="ticks",
                  ticks="inside", ticklen=6, tickwidth=1, tickcolor=TICKC,
                  showgrid=False, zeroline=False, tickfont=FONT)
    layout[xk] = dict(common, domain=[x0 / W, x1 / W], anchor=ya,
                      range=list(x_range), tick0=0, dtick=0.2,
                      minor=dict(dtick=0.05, tick0=0, ticks="inside", ticklen=3,
                                 tickcolor=TICKC, showgrid=False))
    yr = y_ranges[i]
    layout[yk] = dict(common, domain=[1 - bot / H, 1 - top / H], anchor=xa,
                      range=[yr[0], yr[1]], tick0=0, dtick=y_major[i],
                      minor=dict(dtick=y_minor[i], tick0=0, ticks="inside", ticklen=3,
                                 tickcolor=TICKC, showgrid=False))

    for xv in (0.0, ref_phase):
        shapes.append(dict(type="line", xref=xa, yref=f"{ya} domain",
                           x0=xv, x1=xv, y0=0, y1=1, layer="below",
                           line=dict(color="#33ee33", width=1)))

    annotations.append(dict(text=name, xref="paper", yref="paper",
                            x=(x0 + x1) / 2 / W, y=1 - (bot + 31) / H,
                            xanchor="center", yanchor="middle", showarrow=False,
                            font=FONT))

fig.update_layout(**layout)
fig.update_layout(width=W, height=H, margin=dict(l=0, r=0, t=0, b=0),
                  paper_bgcolor="white", plot_bgcolor="white",
                  annotations=annotations, shapes=shapes, font=FONT)

fig.write_html("out.html")
